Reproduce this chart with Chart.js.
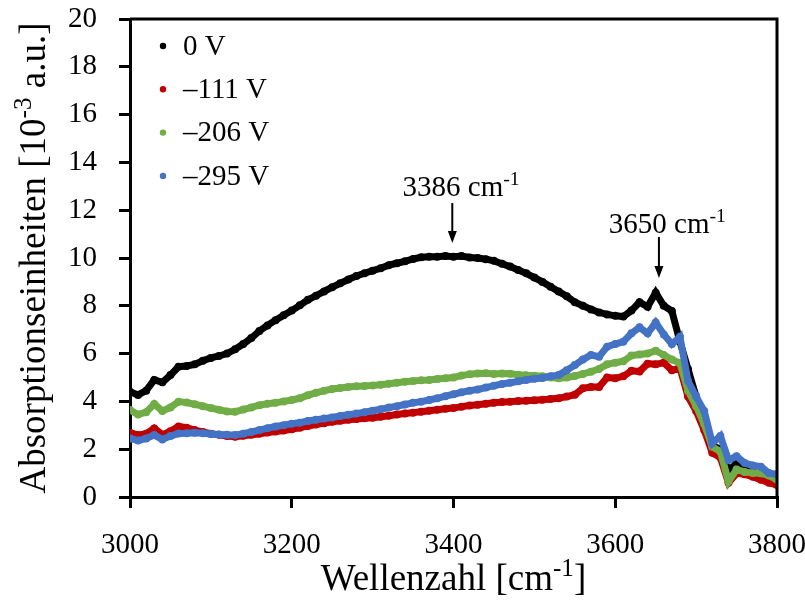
<!DOCTYPE html>
<html>
<head>
<meta charset="utf-8">
<script src="https://cdn.jsdelivr.net/npm/chart.js@4.4.1/dist/chart.umd.min.js"></script>
<style>
html,body{margin:0;padding:0;background:#fff;}
#wrap{width:805px;height:604px;}
</style>
</head>
<body>
<div id="wrap"><canvas id="c" width="805" height="604"></canvas></div>
<script>
// Wavenumber grid (cm^-1)
const wavenumbers = [
 3000,3010,3020,3030,3040,3050,3060,3070,3080,3090,
 3100,3110,3120,3130,3140,3150,3160,3170,3180,3190,
 3200,3210,3220,3230,3240,3250,3260,3270,3280,3290,
 3300,3310,3320,3330,3340,3350,3360,3370,3380,3390,
 3400,3410,3420,3430,3440,3450,3460,3470,3480,3490,
 3500,3510,3520,3530,3540,3550,3560,3570,3580,3590,
 3600,3610,3620,3630,3640,3650,3660,3670,3680,3690,
 3700,3710,3720,3730,3740,3750,3760,3770,3780,3790,3800];

// 0 V
const v0 = [
 4.40,4.27,4.45,4.90,4.80,5.10,5.45,5.48,5.55,5.70,
 5.82,5.90,6.00,6.18,6.40,6.65,6.95,7.18,7.40,7.60,
 7.80,8.02,8.25,8.42,8.60,8.78,8.94,9.10,9.25,9.36,
 9.47,9.57,9.70,9.78,9.86,9.96,10.03,10.05,10.05,10.08,
 10.05,10.08,10.02,10.00,9.95,9.88,9.76,9.64,9.50,9.36,
 9.18,9.00,8.80,8.60,8.40,8.15,8.00,7.85,7.72,7.64,
 7.58,7.55,7.80,8.15,7.96,8.55,8.00,7.78,6.50,5.35,
 4.20,3.30,2.15,2.00,1.10,1.40,1.20,1.05,0.90,0.75,0.55];

// -111 V
const v111 = [
 2.69,2.59,2.65,2.87,2.60,2.75,2.95,2.90,2.80,2.72,
 2.65,2.60,2.55,2.52,2.56,2.60,2.65,2.70,2.74,2.78,
 2.83,2.90,2.97,3.03,3.09,3.15,3.19,3.23,3.26,3.29,
 3.32,3.36,3.40,3.45,3.49,3.53,3.57,3.61,3.65,3.69,
 3.72,3.78,3.83,3.86,3.90,3.94,3.97,3.99,4.02,4.03,
 4.05,4.07,4.10,4.13,4.20,4.28,4.55,4.60,4.60,5.00,
 4.97,5.05,5.28,5.25,5.58,5.55,5.62,5.30,5.40,4.20,
 3.60,2.80,1.85,1.65,0.60,0.99,0.95,0.85,0.72,0.60,0.50];

// -206 V
const v206 = [
 3.64,3.45,3.55,3.89,3.60,3.75,3.99,3.95,3.88,3.80,
 3.72,3.65,3.58,3.57,3.66,3.75,3.84,3.90,3.94,4.00,
 4.06,4.13,4.26,4.36,4.45,4.52,4.56,4.60,4.63,4.64,
 4.67,4.70,4.74,4.78,4.82,4.85,4.88,4.90,4.94,4.97,
 5.00,5.08,5.14,5.17,5.18,5.15,5.17,5.16,5.12,5.09,
 5.07,5.05,5.00,4.97,5.00,5.06,5.15,5.24,5.36,5.55,
 5.62,5.68,5.92,5.96,6.00,6.12,5.94,5.75,5.60,4.45,
 3.80,3.05,2.10,1.90,0.65,1.15,1.05,1.00,0.99,0.90,0.72];

// -295 V
const v295 = [
 2.45,2.36,2.45,2.59,2.41,2.55,2.66,2.67,2.69,2.67,
 2.64,2.62,2.60,2.59,2.65,2.72,2.80,2.88,2.95,3.00,
 3.07,3.11,3.18,3.23,3.28,3.33,3.39,3.44,3.49,3.55,
 3.61,3.67,3.74,3.80,3.87,3.94,3.99,4.06,4.13,4.22,
 4.30,4.38,4.45,4.50,4.58,4.66,4.73,4.78,4.84,4.90,
 4.95,4.98,5.05,5.10,5.30,5.52,5.75,5.94,5.87,6.29,
 6.40,6.50,6.85,7.10,6.85,7.30,6.80,6.40,6.70,4.85,
 4.20,3.60,2.25,2.55,1.55,1.70,1.42,1.32,1.27,1.00,0.95];

const seriesNames = ['0 V', '\u2013111 V', '\u2013206 V', '\u2013295 V'];
const seriesColors = ['#000000', '#C00000', '#70AD47', '#4472C4'];
const seriesValues = [v0, v111, v206, v295];
const drawOrder = [3, 2, 1, 0];

// annotations anchored in data coordinates
const annotations = [
  {num:'3386', x:3398.5, yTop:12.3, yTip:10.63, yText:12.6, xText:3337},
  {num:'3650', x:3654, yTop:10.88, yTip:9.16, yText:11.05, xText:3592}
];

const yTicks = [0,2,4,6,8,10,12,14,16,18,20];
const xTicks = [3000,3200,3400,3600,3800];

const FONT = '"Liberation Serif", "Times New Roman", serif';

function drawSupText(ctx, parts, x, y, size) {
  let cx = x;
  parts.forEach(([t, sup]) => {
    const s = sup ? size * 0.68 : size;
    ctx.font = s + 'px ' + FONT;
    ctx.fillText(t, cx, sup ? y - size * 0.38 : y);
    cx += ctx.measureText(t).width;
  });
  return cx - x;
}
function measureSup(ctx, parts, size) {
  let w = 0;
  parts.forEach(([t, sup]) => {
    const s = sup ? size * 0.68 : size;
    ctx.font = s + 'px ' + FONT;
    w += ctx.measureText(t).width;
  });
  return w;
}

const decorPlugin = {
  id: 'decor',
  afterDatasetsDraw(chart) {
    const {ctx, chartArea: a, scales: {x, y}} = chart;
    ctx.save();
    ctx.strokeStyle = '#000';
    ctx.lineWidth = 3;
    ctx.beginPath();
    ctx.moveTo(a.left, a.top);
    ctx.lineTo(a.right, a.top);
    ctx.lineTo(a.right, a.bottom);
    ctx.stroke();

    // legend
    ctx.textBaseline = 'middle';
    seriesNames.forEach((n, i) => {
      const cy = 46 + i * 43.3;
      ctx.beginPath();
      ctx.fillStyle = seriesColors[i];
      ctx.arc(163, cy, 3.2, 0, Math.PI * 2);
      ctx.fill();
      ctx.fillStyle = '#000';
      ctx.font = '29px ' + FONT;
      ctx.fillText(n, 183, cy + 1);
    });

    // annotations
    ctx.textBaseline = 'alphabetic';
    annotations.forEach(an => {
      const px = x.getPixelForValue(an.x);
      const pt = y.getPixelForValue(an.yTop);
      const pb = y.getPixelForValue(an.yTip);
      ctx.strokeStyle = '#000';
      ctx.lineWidth = 2;
      ctx.beginPath();
      ctx.moveTo(px, pt);
      ctx.lineTo(px, pb - 10);
      ctx.stroke();
      ctx.fillStyle = '#000';
      ctx.beginPath();
      ctx.moveTo(px - 4.5, pb - 12);
      ctx.lineTo(px + 4.5, pb - 12);
      ctx.lineTo(px, pb);
      ctx.closePath();
      ctx.fill();
      drawSupText(ctx, [[an.num + ' cm', false], ['-1', true]],
        x.getPixelForValue(an.xText), y.getPixelForValue(an.yText), 29);
    });

    // x title
    const xParts = [['Wellenzahl [cm', false], ['-1', true], [']', false]];
    const xs = 37;
    const xw = measureSup(ctx, xParts, xs);
    ctx.fillStyle = '#000';
    drawSupText(ctx, xParts, (a.left + a.right) / 2 - xw / 2, 590, xs);

    // y title
    const yParts = [['Absorptionseinheiten [10', false], ['-3', true], [' a.u.]', false]];
    const ys = 37;
    const yw = measureSup(ctx, yParts, ys);
    ctx.translate(45, (a.top + a.bottom) / 2);
    ctx.rotate(-Math.PI / 2);
    drawSupText(ctx, yParts, -yw / 2, 0, ys);
    ctx.restore();
  }
};

const datasets = seriesValues.map((vals, i) => ({
  label: seriesNames[i],
  data: wavenumbers.map((w, k) => ({x: w, y: vals[k]})),
  borderColor: seriesColors[i],
  backgroundColor: seriesColors[i],
  pointBackgroundColor: seriesColors[i],
  pointBorderWidth: 0,
  pointRadius: 4,
  borderWidth: 7,
  tension: 0,
  fill: false,
  order: drawOrder[i]
}));

new Chart(document.getElementById('c'), {
  type: 'line',
  data: {datasets},
  options: {
    responsive: false,
    animation: false,
    devicePixelRatio: 1,
    layout: {padding: {left: 0, top: 0, right: 0, bottom: 0}},
    plugins: {legend: {display: false}, tooltip: {enabled: false}},
    scales: {
      x: {
        type: 'linear', min: 3000, max: 3800,
        afterBuildTicks: s => { s.ticks = xTicks.map(v => ({value: v})); },
        afterFit: s => { s.height = 107; s.paddingRight = 28; s.paddingLeft = 0; },
        grid: {drawOnChartArea: false, drawTicks: true, tickLength: 11, lineWidth: 3, color: '#000', tickColor: '#000'},
        border: {display: true, color: '#000', width: 3},
        ticks: {color: '#000', font: {family: FONT, size: 29}, padding: 20, maxRotation: 0,
                callback: v => String(v)}
      },
      y: {
        min: 0, max: 20,
        afterBuildTicks: s => { s.ticks = yTicks.map(v => ({value: v})); },
        afterFit: s => { s.width = 130; s.paddingTop = 19; s.paddingBottom = 0; },
        grid: {drawOnChartArea: false, drawTicks: true, tickLength: 11, lineWidth: 3, color: '#000', tickColor: '#000'},
        border: {display: true, color: '#000', width: 3},
        ticks: {color: '#000', font: {family: FONT, size: 29}, padding: 22,
                callback: v => String(v)}
      }
    }
  },
  plugins: [decorPlugin]
});
</script>
</body>
</html>
